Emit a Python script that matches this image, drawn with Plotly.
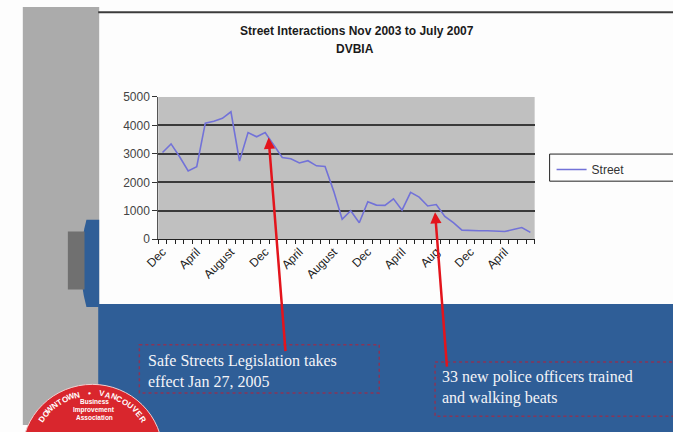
import math
import plotly.graph_objects as go

W, H = 673, 432

# ---------------- data ----------------
months = ["Dec 2003", "Jan 2004", "Feb 2004", "Mar 2004", "Apr 2004", "May 2004", "Jun 2004", "Jul 2004",
          "Aug 2004", "Sep 2004", "Oct 2004", "Nov 2004", "Dec 2004", "Jan 2005", "Feb 2005", "Mar 2005",
          "Apr 2005", "May 2005", "Jun 2005", "Jul 2005", "Aug 2005", "Sep 2005", "Oct 2005", "Nov 2005",
          "Dec 2005", "Jan 2006", "Feb 2006", "Mar 2006", "Apr 2006", "May 2006", "Jun 2006", "Jul 2006",
          "Aug 2006", "Sep 2006", "Oct 2006", "Nov 2006", "Dec 2006", "Jan 2007", "Feb 2007", "Mar 2007",
          "Apr 2007", "May 2007", "Jun 2007", "Jul 2007"]
street = [3050, 3350, 2900, 2400, 2550, 4080, 4150, 4250, 4480, 2750, 3750, 3600, 3750, 3300, 2870, 2830,
          2680, 2760, 2580, 2560, 1700, 700, 1000, 580, 1320, 1200, 1190, 1420, 1020, 1650, 1480, 1170,
          1220, 800, 580, 320, 300, 300, 300, 290, 270, 340, 410, 240]
tick_text = ["Dec", "April", "August", "Dec", "April", "August", "Dec", "April", "Aug", "Dec", "April"]
y_ticks = [0, 1000, 2000, 3000, 4000, 5000]

title_lines = ["Street Interactions Nov 2003 to July 2007", "DVBIA"]
note1 = ["Safe Streets Legislation takes", "effect Jan 27, 2005"]
note2 = ["33 new police officers trained", "and walking beats"]
logo_arc = "DOWNTOWN • VANCOUVER"
logo_inner = ["Business", "Improvement", "Association"]


def px(x):
    return x / W


def py(y):
    return 1 - y / H


x_idx = list(range(len(months)))
tick_idx = x_idx[::4][:len(tick_text)]

fig = go.Figure()
fig.add_trace(go.Scatter(
    x=x_idx, y=street, mode="lines", name="Street",
    line=dict(color="#7272d8", width=1.6),
    customdata=months, hovertemplate="%{customdata}: %{y}<extra></extra>",
))

shapes = []
# granite strip
shapes.append(dict(type="rect", xref="paper", yref="paper", x0=px(9), x1=px(87), y0=py(0), y1=py(432),
                   fillcolor="#ababab", line=dict(width=0), layer="below"))
# blue band
shapes.append(dict(type="rect", xref="paper", yref="paper", x0=px(86), x1=px(680), y0=py(307), y1=py(440),
                   fillcolor="#2f5e97", line=dict(width=0), layer="below"))
# blue tab at left edge of white panel
shapes.append(dict(type="path", xref="paper", yref="paper",
                   path="M {a},{b} L {c},{b} L {c},{d} L {a},{d} Q {e},{f} {a},{b} Z".format(
                       a=px(74), b=py(220), c=px(87), d=py(310), e=px(62), f=py(265)),
                   fillcolor="#2f5e97", line=dict(width=0), layer="below"))
# grey tab
shapes.append(dict(type="rect", xref="paper", yref="paper", x0=px(55), x1=px(72), y0=py(232), y1=py(292),
                   fillcolor="#707070", line=dict(width=0), layer="below"))
# top dark rule
shapes.append(dict(type="line", xref="paper", yref="paper", x0=px(86), x1=px(673), y0=py(5.5), y1=py(5.5),
                   line=dict(color="#3c3c3c", width=2), layer="below"))
# legend frame
shapes.append(dict(type="rect", xref="paper", yref="paper", x0=px(547), x1=px(690), y0=py(152), y1=py(180),
                   line=dict(color="#222222", width=1), fillcolor="rgba(0,0,0,0)", layer="above"))
# note boxes
shapes.append(dict(type="rect", xref="paper", yref="paper", x0=px(128), x1=px(373), y0=py(349), y1=py(399),
                   line=dict(color="#8a3457", width=1.5, dash="dot"), layer="above"))
shapes.append(dict(type="rect", xref="paper", yref="paper", x0=px(430), x1=px(690), y0=py(367), y1=py(423),
                   line=dict(color="#8a3457", width=1.5, dash="dot"), layer="above"))
# logo disc
cx, cy, r = 80, 462, 72
shapes.append(dict(type="circle", xref="paper", yref="paper", x0=px(cx - r), x1=px(cx + r),
                   y0=py(cy + r), y1=py(cy - r), fillcolor="#d9262d",
                   line=dict(color="#f0d0d0", width=1), layer="above"))

annotations = []
C = dict(xanchor="center", yanchor="middle", showarrow=False, xref="paper", yref="paper")
# title
annotations.append(dict(x=px(350), y=py(25), text="<b>%s</b>" % title_lines[0],
                        font=dict(family="Liberation Sans", size=12, color="#1a1a1a"), **C))
annotations.append(dict(x=px(348), y=py(43), text="<b>%s</b>" % title_lines[1],
                        font=dict(family="Liberation Sans", size=12, color="#1a1a1a"), **C))
# note texts
annotations.append(dict(xref="paper", yref="paper", x=px(135), y=py(354), xanchor="left", yanchor="top",
                        align="left", text="<br>".join(note1), showarrow=False,
                        font=dict(family="Liberation Serif", size=16, color="#f4f4f8")))
annotations.append(dict(xref="paper", yref="paper", x=px(435), y=py(371), xanchor="left", yanchor="top",
                        align="left", text="<br>".join(note2), showarrow=False,
                        font=dict(family="Liberation Serif", size=16, color="#f4f4f8")))
# arrows
annotations.append(dict(xref="paper", yref="paper", x=px(260), y=py(135), ax=17, ay=215, text="",
                        showarrow=True, arrowhead=2, arrowsize=0.9, arrowwidth=2.5, arrowcolor="#e3141c"))
annotations.append(dict(xref="paper", yref="paper", x=px(430), y=py(212), ax=12, ay=156, text="",
                        showarrow=True, arrowhead=2, arrowsize=0.9, arrowwidth=2.5, arrowcolor="#e3141c"))
# logo arc text
tr = 63
n = len(logo_arc)
a0, a1 = 145, 35
for i, ch in enumerate(logo_arc):
    th = a0 + (a1 - a0) * i / (n - 1)
    x = cx + tr * math.cos(math.radians(th))
    y = cy - tr * math.sin(math.radians(th))
    annotations.append(dict(x=px(x), y=py(y), text="<b>%s</b>" % ch, textangle=90 - th,
                            font=dict(family="Liberation Sans", size=8, color="#ffffff"), **C))
for k, t in enumerate(logo_inner):
    annotations.append(dict(x=px(cx + 2), y=py(408 + 8 * k), text="<b>%s</b>" % t,
                            font=dict(family="Liberation Sans", size=6.5, color="#ffffff"), **C))

fig.update_layout(
    width=W, height=H, margin=dict(l=0, r=0, t=0, b=0),
    paper_bgcolor="#fdfdfd", plot_bgcolor="#c0c0c0",
    showlegend=True,
    legend=dict(x=px(549), y=py(153), xanchor="left", yanchor="top", bgcolor="rgba(0,0,0,0)",
                borderwidth=0, font=dict(family="Liberation Sans", size=12, color="#333333"),
                itemwidth=30, tracegroupgap=0),
    xaxis=dict(domain=[px(147.3), px(531.7)], range=[-0.5, len(months) - 0.5],
               tickmode="array", tickvals=tick_idx, ticktext=tick_text, tickangle=-45,
               ticks="", showgrid=False, zeroline=False, showline=True, linecolor="#222222", linewidth=1,
               tickfont=dict(family="Liberation Sans", size=12, color="#222222"),
               minor=dict(tick0=-0.5, dtick=1, ticks="outside", ticklen=4, tickcolor="#222222",
                          showgrid=False)),
    yaxis=dict(domain=[py(240), py(93)], range=[0, 5000], tickmode="array", tickvals=y_ticks,
               ticks="outside", ticklen=5, tickcolor="#333333", showline=True, linecolor="#555555",
               gridcolor="#3a3a3a", gridwidth=1.5, zeroline=False,
               tickfont=dict(family="Liberation Sans", size=12, color="#444444")),
    shapes=shapes, annotations=annotations,
)

fig.write_html("out.html")
